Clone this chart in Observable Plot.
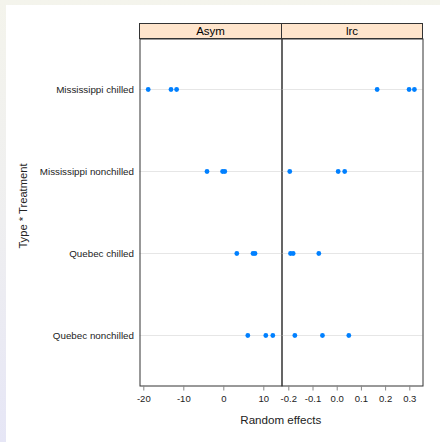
<!DOCTYPE html>
<html><head><meta charset="utf-8">
<script src="https://cdn.jsdelivr.net/npm/d3@7"></script>
<script src="https://cdn.jsdelivr.net/npm/@observablehq/plot@0.6"></script>
<style>
body{margin:0;width:440px;height:442px;overflow:hidden;background:linear-gradient(to bottom,#f4f4ec 0%,#efeff0 50%,#e6e6f6 100%);font-family:"Liberation Sans",Arial,sans-serif;}
#page{position:absolute;left:6px;top:5px;width:434px;height:437px;background:#fff;}
#chart{position:absolute;left:0;top:0;width:440px;height:442px;}
.strip{position:absolute;top:23px;height:16px;box-sizing:border-box;border:1px solid #333;background:#ffe5cc;font-size:11.5px;line-height:14px;text-align:center;color:#000;}
</style></head><body>
<div id="page"></div><div id="chart"></div>
<script>
const groups = ["Mississippi chilled", "Mississippi nonchilled", "Quebec chilled", "Quebec nonchilled"];
const pointGroup = [
  "Mississippi chilled", "Mississippi chilled", "Mississippi chilled",
  "Mississippi nonchilled", "Mississippi nonchilled", "Mississippi nonchilled",
  "Quebec chilled", "Quebec chilled", "Quebec chilled",
  "Quebec nonchilled", "Quebec nonchilled", "Quebec nonchilled"
];
const asymEffects = [-18.9, -13.2, -11.8, -4.2, -0.3, 0.25, 3.25, 7.3, 7.8, 6.0, 10.5, 12.25];
const lrcEffects = [0.165, 0.297, 0.319, -0.196, 0.004, 0.031, -0.193, -0.182, -0.076, -0.175, -0.061, 0.048];
const asymTicks = [-20, -10, 0, 10];
const lrcTicks = [-0.2, -0.1, 0, 0.1, 0.2, 0.3];
const panelNames = ["Asym", "lrc"];
const yTitle = "Type * Treatment";
const xTitle = "Random effects";

const rows = pointGroup.map((g, i) => ({group: g, asym: asymEffects[i], lrc: lrcEffects[i]}));
const font = '"Liberation Sans", Arial, sans-serif';
const yScale = {type: "point", domain: groups, padding: 0.593};
const baseStyle = {background: "transparent", overflow: "visible", fontFamily: font, position: "absolute", top: "0px"};
const fmtInt = d => String(d);
const fmtDec = d => d.toFixed(1);

const p1 = Plot.plot({
  width: 281.5, height: 442,
  marginLeft: 139.5, marginRight: 0, marginTop: 38.5, marginBottom: 56.5,
  x: {domain: [-20.95, 14.55]},
  y: yScale,
  style: {...baseStyle, left: "0px"},
  marks: [
    Plot.ruleY(groups, {y: d => d, stroke: "#e6e6e6"}),
    Plot.frame({stroke: "#333"}),
    Plot.dot(rows, {x: "asym", y: "group", r: 2.4, fill: "#0080ff"}),
    Plot.axisX({ticks: asymTicks, tickSize: 5, tickPadding: 4, tickFormat: fmtInt, stroke: "#888", fill: "#222", fontSize: 9.5, label: null}),
    Plot.axisY({tickSize: 0, tickPadding: 6, fill: "#222", fontSize: 9.8, label: null}),
    Plot.text([yTitle], {frameAnchor: "left", textAnchor: "middle", dx: -116.8, dy: -6.5, rotate: -90, fontSize: 11.2, fill: "#222"}),
    Plot.text([xTitle], {frameAnchor: "bottom-right", dx: -1.2, dy: 37.8, textAnchor: "middle", fontSize: 11.6, fill: "#222"})
  ]
});

const p2 = Plot.plot({
  width: 142, height: 442,
  marginLeft: 0.5, marginRight: 0.5, marginTop: 38.5, marginBottom: 56.5,
  x: {domain: [-0.2281, 0.3545]},
  y: {...yScale, axis: null},
  style: {...baseStyle, left: "281px"},
  marks: [
    Plot.ruleY(groups, {y: d => d, stroke: "#e6e6e6"}),
    Plot.frame({stroke: "#333"}),
    Plot.dot(rows, {x: "lrc", y: "group", r: 2.4, fill: "#0080ff"}),
    Plot.axisX({ticks: lrcTicks, tickSize: 5, tickPadding: 4, tickFormat: fmtDec, stroke: "#888", fill: "#222", fontSize: 9.5, label: null})
  ]
});

const chart = document.getElementById("chart");
chart.appendChild(p1);
chart.appendChild(p2);
const stripPos = [{left: 139, width: 143}, {left: 281, width: 142}];
panelNames.forEach((name, i) => {
  const s = document.createElement("div");
  s.className = "strip";
  s.style.left = stripPos[i].left + "px";
  s.style.width = stripPos[i].width + "px";
  s.textContent = name;
  chart.appendChild(s);
});
</script></body></html>
